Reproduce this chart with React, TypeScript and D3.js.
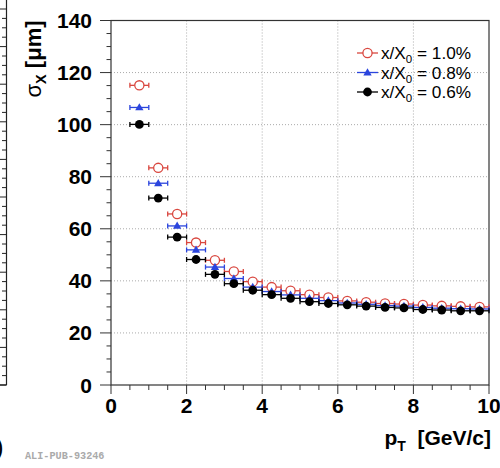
import React from "react";
import * as d3 from "d3";

const ptBins = [0.75, 1.25, 1.75, 2.25, 2.75, 3.25, 3.75, 4.25, 4.75, 5.25, 5.75, 6.25, 6.75, 7.25, 7.75, 8.25, 8.75, 9.25, 9.75];
const halfWidth = 0.25;
const sigma10 = [115.1, 83.4, 65.7, 54.7, 47.9, 43.6, 39.7, 37.6, 36.2, 34.7, 33.6, 32.3, 31.8, 31.3, 31.1, 30.7, 30.4, 30.2, 30.0];
const sigma08 = [106.6, 77.5, 61.1, 51.9, 45.3, 40.9, 37.6, 35.9, 34.6, 33.3, 32.4, 31.5, 31.0, 30.5, 30.3, 29.8, 29.5, 29.3, 29.2];
const sigma06 = [100.1, 71.8, 56.8, 48.2, 42.5, 38.9, 36.4, 34.7, 33.3, 32.0, 31.3, 30.8, 30.3, 29.8, 29.6, 29.0, 28.8, 28.5, 28.5];
const seriesLabels = ["1.0%", "0.8%", "0.6%"];
const xTicks = [0, 2, 4, 6, 8, 10];
const yTicks = [0, 20, 40, 60, 80, 100, 120, 140];

const W = 500, H = 468;
const L = 111, R = 489, T = 20.5, B = 385;
const FONT = "'Liberation Sans', Arial, Helvetica, sans-serif";

const series = [
  { label: seriesLabels[0], values: sigma10, color: "#d9473f", shape: "open" },
  { label: seriesLabels[1], values: sigma08, color: "#2b45dd", shape: "tri" },
  { label: seriesLabels[2], values: sigma06, color: "#000000", shape: "dot" },
];

function Marker({ x, y, shape, color }: { x: number; y: number; shape: string; color: string }) {
  if (shape === "open") return <circle cx={x} cy={y} r={4.6} fill="#fff" stroke={color} strokeWidth={1.3} />;
  if (shape === "tri") {
    const p = d3.symbol().type(d3.symbolTriangle).size(30)();
    return <path d={p || ""} transform={`translate(${x},${y + 0.5})`} fill={color} />;
  }
  return <circle cx={x} cy={y} r={4.4} fill={color} />;
}

export default function App() {
  const x = d3.scaleLinear().domain([0, 10]).range([L, R]);
  const y = d3.scaleLinear().domain([0, 140]).range([B, T]);
  const xMinor = d3.range(0, 10.01, 0.5);
  const yMinor = d3.range(0, 140.01, 5);
  const leftTicks = d3.range(0, 42).map((i) => B - i * 9.4).filter((v) => v > 0);

  return (
    <div style={{ position: "fixed", left: 0, top: 0 }}>
      <svg width={W} height={H} style={{ display: "block", background: "#fff" }}>
        {/* partial previous panel */}
        <line x1={6.5} y1={0} x2={6.5} y2={B} stroke="#222" strokeWidth={1.2} />
        <line x1={0} y1={B} x2={6.5} y2={B} stroke="#222" strokeWidth={1.2} />
        {leftTicks.map((v, i) => (
          <line key={i} x1={i % 4 === 0 ? 0 : 2} x2={6.5} y1={v} y2={v} stroke="#222" strokeWidth={1} />
        ))}
        <text x={-5} y={456} fontFamily={FONT} fontSize={26} fill="#000">)</text>
        <text x={25} y={459} fontFamily="'Liberation Mono', 'DejaVu Sans Mono', monospace" fontWeight="bold" fontSize={10.2} fill="#aaa">ALI-PUB-93246</text>

        {/* grid */}
        {xTicks.filter((t) => t > 0 && t < 10).map((t) => (
          <line key={"gx" + t} x1={x(t)} x2={x(t)} y1={T} y2={B} stroke="#aaa" strokeWidth={1} strokeDasharray="1,2" />
        ))}
        {yTicks.filter((t) => t > 0 && t < 140).map((t) => (
          <line key={"gy" + t} x1={L} x2={R} y1={y(t)} y2={y(t)} stroke="#aaa" strokeWidth={1} strokeDasharray="1,2" />
        ))}

        {/* frame */}
        <rect x={L} y={T} width={R - L} height={B - T} fill="none" stroke="#333" strokeWidth={1.2} />

        {/* y ticks */}
        {yMinor.map((t) => {
          const major = t % 20 === 0;
          return <line key={"yt" + t} x1={L - (major ? 11 : 4.5)} x2={L} y1={y(t)} y2={y(t)} stroke="#333" strokeWidth={1} />;
        })}
        {yTicks.map((t) => (
          <text key={"yl" + t} x={92} y={y(t) + 7.5} textAnchor="end" fontFamily={FONT} fontWeight="bold" fontSize={21} fill="#000">{t}</text>
        ))}
        {/* x ticks */}
        {xMinor.map((t) => {
          const major = t % 2 === 0;
          return <line key={"xt" + t} x1={x(t)} x2={x(t)} y1={B} y2={B + (major ? 9 : 5)} stroke="#333" strokeWidth={1} />;
        })}
        {xTicks.map((t) => (
          <text key={"xl" + t} x={x(t)} y={413} textAnchor="middle" fontFamily={FONT} fontWeight="bold" fontSize={21} fill="#000">{t}</text>
        ))}

        {/* axis titles */}
        <text x={491} y={445} textAnchor="end" fontFamily={FONT} fontWeight="bold" fontSize={21} fill="#000">
          p<tspan fontSize={14} dy={6}>T</tspan><tspan dy={-6}>{"\u00a0 [GeV/c]"}</tspan>
        </text>
        <text transform="translate(41,59) rotate(-90)" textAnchor="middle" fontFamily={FONT} fontWeight="bold" fontSize={22} fill="#000">
          <tspan fontWeight="normal">σ</tspan><tspan fontSize={14.5} dy={5}>X</tspan><tspan dy={-5}>{"\u00a0[μm]"}</tspan>
        </text>

        {/* data */}
        {series.map((s, si) => (
          <g key={"s" + si}>
            {s.values.map((v, i) => {
              const cx = x(ptBins[i]);
              const cy = y(v);
              const x0 = x(ptBins[i] - halfWidth);
              const x1 = x(ptBins[i] + halfWidth);
              return (
                <g key={i}>
                  <line x1={x0} x2={x1} y1={cy} y2={cy} stroke={s.color} strokeWidth={1.3} />
                  <line x1={x0} x2={x0} y1={cy - 2.5} y2={cy + 2.5} stroke={s.color} strokeWidth={1.3} />
                  <line x1={x1} x2={x1} y1={cy - 2.5} y2={cy + 2.5} stroke={s.color} strokeWidth={1.3} />
                </g>
              );
            })}
            {s.values.map((v, i) => (
              <Marker key={"m" + i} x={x(ptBins[i])} y={y(v)} shape={s.shape} color={s.color} />
            ))}
          </g>
        ))}

        {/* legend */}
        {series.map((s, i) => {
          const ly = 53 + i * 19.5;
          return (
            <g key={"lg" + i}>
              <line x1={357} x2={378} y1={ly} y2={ly} stroke={s.color} strokeWidth={1.3} />
              <Marker x={367.5} y={ly} shape={s.shape} color={s.color} />
              <text x={381} y={ly + 6} fontFamily={FONT} fontSize={17.2} fill="#000">
                x/X<tspan fontSize={11.5} dy={4}>0</tspan><tspan dy={-4}>{" = " + s.label}</tspan>
              </text>
            </g>
          );
        })}
      </svg>
    </div>
  );
}
